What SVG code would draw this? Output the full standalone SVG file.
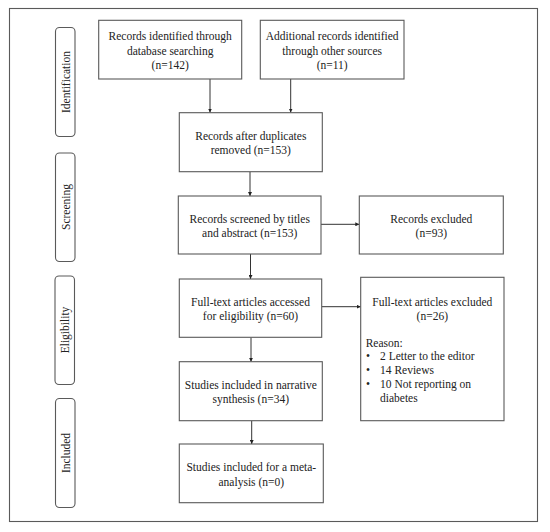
<svg xmlns="http://www.w3.org/2000/svg" width="550" height="532" viewBox="0 0 550 532">
<style>
.b{fill:#fff;stroke:#5a5a5a;stroke-width:1.1}
.p{fill:#fff;stroke:#5a5a5a;stroke-width:1.1}
.t{font-family:"Liberation Serif","Times New Roman",serif;font-size:11.5px;fill:#222}
.c{text-anchor:middle}
.l{fill:none;stroke:#333;stroke-width:1}
</style>
<defs>
<marker id="ah" viewBox="0 0 6 6" refX="6" refY="3" markerWidth="4" markerHeight="4" orient="auto" markerUnits="userSpaceOnUse">
<path d="M0,0L6,3L0,6z" fill="#222"/>
</marker>
</defs>
<rect x="9.5" y="8.5" width="528" height="513" fill="#fff" stroke="#5a5a5a" stroke-width="1.1"/>
<g id="phase-identification"><rect class="p" x="55.5" y="27.5" width="19.5" height="109" rx="4"/><text class="t c" transform="translate(69.5,82) rotate(-90)">Identification</text></g>
<g id="phase-screening"><rect class="p" x="55.5" y="153" width="19.5" height="108.5" rx="4"/><text class="t c" transform="translate(69.5,207) rotate(-90)">Screening</text></g>
<g id="phase-eligibility"><rect class="p" x="55" y="276" width="19.5" height="108.5" rx="4"/><text class="t c" transform="translate(69,330) rotate(-90)">Eligibility</text></g>
<g id="phase-included"><rect class="p" x="55.5" y="398.5" width="19.5" height="109" rx="4"/><text class="t c" transform="translate(69.5,453) rotate(-90)">Included</text></g>
<g id="connectors">
<line class="l" x1="210" y1="79" x2="210" y2="112.5" marker-end="url(#ah)"/>
<line class="l" x1="290.7" y1="79" x2="290.7" y2="112.5" marker-end="url(#ah)"/>
<line class="l" x1="250" y1="171.7" x2="250" y2="196" marker-end="url(#ah)"/>
<line class="l" x1="321" y1="224.3" x2="359.3" y2="224.3" marker-end="url(#ah)"/>
<line class="l" x1="250.5" y1="254" x2="250.5" y2="279" marker-end="url(#ah)"/>
<line class="l" x1="321.7" y1="306.7" x2="360.7" y2="306.7" marker-end="url(#ah)"/>
<line class="l" x1="251" y1="337.3" x2="251" y2="361.7" marker-end="url(#ah)"/>
<line class="l" x1="251.7" y1="420.7" x2="251.7" y2="444" marker-end="url(#ah)"/>
</g>
<g id="box-db"><rect class="b" x="98.7" y="20.3" width="143" height="58.7"/><text class="t c" x="170.2" y="40">Records identified through</text><text class="t c" x="170.2" y="54.5">database searching</text><text class="t c" x="170.2" y="68.7">(n=142)</text></g>
<g id="box-other"><rect class="b" x="260.3" y="20.3" width="143.7" height="58.7"/><text class="t c" x="332.2" y="40">Additional records identified</text><text class="t c" x="332.2" y="54.5">through other sources</text><text class="t c" x="332.2" y="68.7">(n=11)</text></g>
<g id="box-dup"><rect class="b" x="179.3" y="112.7" width="143" height="59"/><text class="t c" x="250.8" y="140">Records after duplicates</text><text class="t c" x="250.8" y="154.3">removed (n=153)</text></g>
<g id="box-screen"><rect class="b" x="178.3" y="196" width="142.7" height="58"/><text class="t c" x="249.7" y="223">Records screened by titles</text><text class="t c" x="249.7" y="237.3">and abstract (n=153)</text></g>
<g id="box-excl"><rect class="b" x="359.3" y="196" width="144" height="58"/><text class="t c" x="431.3" y="223">Records excluded</text><text class="t c" x="431.3" y="237.3">(n=93)</text></g>
<g id="box-full"><rect class="b" x="179.3" y="279" width="142.4" height="58.3"/><text class="t c" x="250.5" y="305.5">Full-text articles accessed</text><text class="t c" x="250.5" y="320">for eligibility (n=60)</text></g>
<g id="box-fullexcl"><rect class="b" x="360.7" y="277.3" width="143.3" height="143.4"/><text class="t c" x="432.3" y="305.5">Full-text articles excluded</text><text class="t c" x="432.3" y="320">(n=26)</text><text class="t" x="365.7" y="347">Reason:</text><text class="t" x="366" y="359.7">•</text><text class="t" x="380" y="359.7">2 Letter to the editor</text><text class="t" x="366" y="374">•</text><text class="t" x="380" y="374">14 Reviews</text><text class="t" x="366" y="388.3">•</text><text class="t" x="380" y="388.3">10 Not reporting on</text><text class="t" x="380" y="401.7">diabetes</text></g>
<g id="box-narr"><rect class="b" x="179.3" y="361.7" width="143" height="59"/><text class="t c" x="250.8" y="389">Studies included in narrative</text><text class="t c" x="250.8" y="403.3">synthesis (n=34)</text></g>
<g id="box-meta"><rect class="b" x="179.3" y="444" width="144" height="58.7"/><text class="t c" x="251.3" y="471.3">Studies included for a meta-</text><text class="t c" x="251.3" y="485.7">analysis (n=0)</text></g>
</svg>
